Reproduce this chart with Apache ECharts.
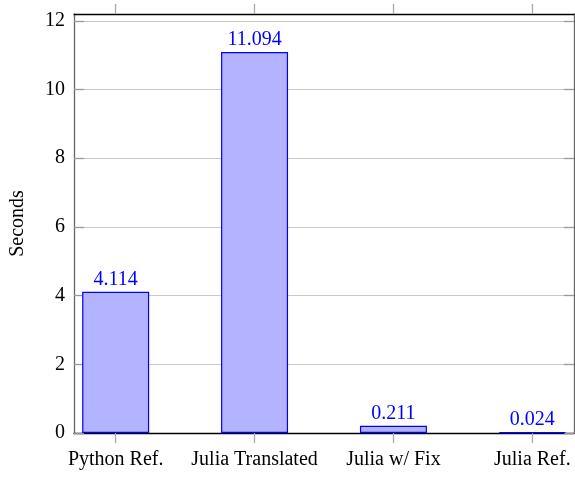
<!DOCTYPE html>
<html>
<head>
<meta charset="utf-8">
<script src="https://cdn.jsdelivr.net/npm/echarts@6/dist/echarts.min.js"></script>
<style>
  html, body { margin: 0; padding: 0; background: #fff; }
  #chart { width: 575px; height: 478px; }
</style>
</head>
<body>
<div id="chart"></div>
<script>
var categories = ['Python Ref.', 'Julia Translated', 'Julia w/ Fix', 'Julia Ref.'];
var seconds = [4.114, 11.094, 0.211, 0.024];
var yTicks = [0, 2, 4, 6, 8, 10, 12];

var font = 'Liberation Serif';
var positions = categories.map(function (c, i) { return i; });
var points = seconds.map(function (v, i) { return [i, v]; });

var myChart = echarts.init(document.getElementById('chart'));
var option = {
    animation: false,
    grid: { left: 70, top: 14, right: 1, bottom: 45 },
    xAxis: [{
        type: 'value',
        min: -0.3,
        max: 3.3,
        position: 'bottom',
        splitLine: { show: false },
        axisLine: { show: true, onZero: false, lineStyle: { color: '#000', width: 1.3 } },
        axisTick: { show: true, inside: false, length: 10, customValues: positions,
            lineStyle: { color: '#aaa', width: 1.3 } },
        axisLabel: { customValues: positions, margin: 17, color: '#000',
            fontFamily: font, fontSize: 20,
            formatter: function (v) { return categories[Math.round(v)]; } }
    }, {
        type: 'value',
        min: -0.3,
        max: 3.3,
        position: 'top',
        splitLine: { show: false },
        axisLine: { show: true, onZero: false, lineStyle: { color: '#000', width: 1.3 } },
        axisTick: { show: true, inside: false, length: 10, customValues: positions,
            lineStyle: { color: '#aaa', width: 1.3 } },
        axisLabel: { show: false }
    }],
    yAxis: [{
        type: 'value',
        min: 0,
        max: 12.2,
        interval: 2,
        name: 'Seconds',
        nameLocation: 'middle',
        nameGap: 46,
        nameTextStyle: { color: '#000', fontFamily: font, fontSize: 20 },
        axisLine: { show: true, onZero: false, lineStyle: { color: '#666', width: 1.3 } },
        axisTick: { show: true, inside: true, length: 10, customValues: yTicks,
            lineStyle: { color: '#999', width: 1.3 } },
        axisLabel: { customValues: yTicks, margin: 9, color: '#000',
            fontFamily: font, fontSize: 20 },
        splitLine: { show: true, lineStyle: { color: '#c8c8c8', width: 1 } }
    }, {
        type: 'value',
        min: 0,
        max: 12.2,
        interval: 2,
        position: 'right',
        axisLine: { show: true, onZero: false, lineStyle: { color: '#666', width: 1.3 } },
        axisTick: { show: true, inside: true, length: 10, customValues: yTicks,
            lineStyle: { color: '#999', width: 1.3 } },
        axisLabel: { show: false },
        splitLine: { show: false }
    }],
    series: [{
        type: 'bar',
        xAxisIndex: 0,
        yAxisIndex: 0,
        data: points,
        barWidth: 67,
        itemStyle: { color: '#b3b3ff', borderColor: '#0000ff', borderWidth: 1.2 },
        label: {
            show: true,
            position: 'top',
            distance: 2,
            color: '#0000ff',
            fontFamily: font,
            fontSize: 20,
            formatter: function (p) { return p.value[1].toFixed(3); }
        }
    }]
};
myChart.setOption(option);
</script>
</body>
</html>
